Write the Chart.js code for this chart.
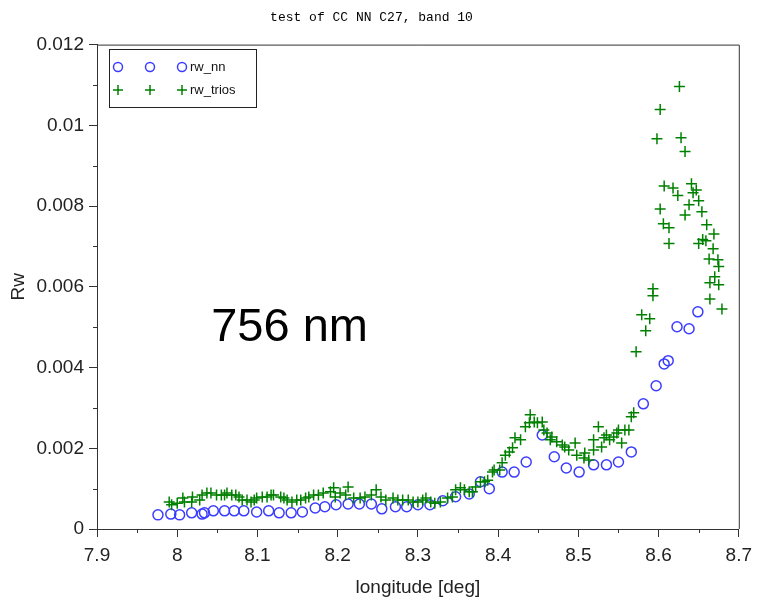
<!DOCTYPE html>
<html>
<head>
<meta charset="utf-8">
<script src="https://cdn.jsdelivr.net/npm/chart.js@4"></script>
<style>
  html, body { margin: 0; padding: 0; background: #fff; }
  #wrap { width: 759px; height: 601px; }
</style>
</head>
<body>
<div id="wrap"><canvas id="rwChart" width="759" height="601"></canvas></div>
<script>
// rw_nn (blue circles)
const nnLon = [7.976,7.992,8.003,8.018,8.031,8.034,8.045,8.059,8.071,8.083,8.099,8.114,8.127,8.142,8.156,8.172,8.184,8.198,8.213,8.227,8.242,8.255,8.272,8.286,8.300,8.315,8.331,8.347,8.364,8.378,8.389,8.405,8.420,8.435,8.455,8.470,8.485,8.501,8.519,8.535,8.550,8.566,8.581,8.597,8.607,8.612,8.623,8.638,8.649];
const nnRw = [0.00035,0.00037,0.00035,0.0004,0.00037,0.0004,0.00045,0.00045,0.00045,0.00045,0.00042,0.00045,0.0004,0.0004,0.00042,0.00052,0.00055,0.0006,0.00062,0.00062,0.00062,0.0005,0.00055,0.00055,0.0006,0.0006,0.0007,0.0008,0.00087,0.00117,0.001,0.00141,0.00141,0.00166,0.00233,0.00179,0.00151,0.00141,0.00159,0.00159,0.00166,0.00191,0.0031,0.00355,0.00409,0.00417,0.00501,0.00496,0.00538];

// rw_trios (green crosses)
const triosLon = [7.990,7.993,8.000,8.007,8.009,8.018,8.019,8.028,8.031,8.037,
  8.042,8.049,8.055,8.059,8.062,8.068,8.073,8.077,8.081,8.087,
  8.092,8.096,8.099,8.106,8.112,8.117,8.120,8.129,8.133,8.137,
  8.143,8.149,8.154,8.160,8.164,8.170,8.176,8.182,8.191,8.195,
  8.197,8.203,8.210,8.213,8.220,8.228,8.234,8.242,8.248,8.254,
  8.260,8.269,8.275,8.281,8.288,8.294,8.300,8.306,8.310,8.316,
  8.321,8.328,8.337,8.343,8.347,8.353,8.358,8.364,8.368,8.372,
  8.378,8.383,8.387,8.393,8.395,8.402,8.405,8.409,8.414,8.418,
  8.421,8.428,8.434,8.439,8.440,8.445,8.449,8.455,8.457,8.461,
  8.465,8.467,8.473,8.480,8.483,8.488,8.496,8.498,8.507,8.508,
  8.513,8.519,8.519,8.525,8.529,8.532,8.535,8.539,8.544,8.548,
  8.550,8.554,8.558,8.563,8.566,8.569,8.572,8.579,8.584,8.589,
  8.593,8.593,8.598,8.602,8.602,8.606,8.607,8.613,8.613,8.618,
  8.624,8.626,8.628,8.633,8.633,8.638,8.641,8.643,8.647,8.650,
  8.650,8.654,8.655,8.659,8.660,8.663,8.664,8.664,8.668,8.669,
  8.670,8.674,8.675,8.675,8.679];
const triosRw = [0.00067,0.00060,0.00064,0.00077,0.00067,0.00067,0.00079,0.00072,0.00084,0.00089,
  0.00089,0.00084,0.00084,0.00084,0.00089,0.00084,0.00084,0.00079,0.00072,0.00072,
  0.00067,0.00072,0.00077,0.00079,0.00079,0.00084,0.00084,0.00079,0.00077,0.00072,
  0.00067,0.00072,0.00072,0.00077,0.00079,0.00084,0.00084,0.00089,0.00092,0.00102,
  0.00079,0.00089,0.00084,0.00104,0.00077,0.00077,0.00079,0.00084,0.00097,0.00079,
  0.00072,0.00077,0.00072,0.00072,0.00072,0.00067,0.00067,0.00072,0.00077,0.00067,
  0.00064,0.00067,0.00077,0.00079,0.00097,0.00102,0.00097,0.00092,0.00092,0.00104,
  0.00117,0.00117,0.00121,0.00141,0.00146,0.00146,0.00164,0.00183,0.00191,0.00201,
  0.00226,0.00221,0.00253,0.00263,0.00283,0.00265,0.00263,0.00265,0.00245,0.00238,
  0.00221,0.00228,0.00216,0.00208,0.00203,0.00196,0.00213,0.00183,0.00176,0.00188,
  0.00171,0.00196,0.00221,0.00253,0.00203,0.00226,0.00233,0.00221,0.00228,0.00238,
  0.00245,0.00213,0.00245,0.00245,0.00278,0.00288,0.00439,0.00531,0.00491,0.00521,
  0.00595,0.00578,0.00967,0.01039,0.00793,0.00756,0.00850,0.00746,0.00707,0.00845,
  0.00826,0.01096,0.00969,0.00935,0.00778,0.00803,0.00855,0.00833,0.00840,0.00813,
  0.00707,0.00786,0.00717,0.00714,0.00754,0.00669,0.00610,0.00570,0.00694,0.00731,
  0.00625,0.00667,0.00650,0.00605,0.00545];

// axes
const xRange = [7.9, 8.7];
const yRange = [0, 0.012];
const xMinorTicks = [7.95, 8.05, 8.15, 8.25, 8.35, 8.45, 8.55, 8.65];
const yMinorTicks = [0.001, 0.003, 0.005, 0.007, 0.009, 0.011];

const BLUE = 'rgb(60,60,255)';
const GREEN = 'rgb(0,128,0)';
const FONT = '"Liberation Sans", Arial, sans-serif';

const toPoints = (xs, ys) => xs.map((x, i) => ({ x: x, y: ys[i] }));

// frame, minor ticks, legend, annotation
const extras = {
  id: 'extras',
  afterDraw(chart) {
    const { ctx, chartArea: a, scales } = chart;
    const xs = scales.x, ys = scales.y;
    ctx.save();
    ctx.strokeStyle = '#333';
    ctx.lineWidth = 1;
    ctx.beginPath();
    ctx.moveTo(a.left, a.top + 0.5);
    ctx.lineTo(a.right + 0.5, a.top + 0.5);
    ctx.lineTo(a.right + 0.5, a.bottom);
    // minor ticks
    xMinorTicks.forEach(v => {
      const px = Math.round(xs.getPixelForValue(v)) + 0.5;
      ctx.moveTo(px, a.bottom);
      ctx.lineTo(px, a.bottom + 4);
    });
    yMinorTicks.forEach(v => {
      const py = Math.round(ys.getPixelForValue(v)) + 0.5;
      ctx.moveTo(a.left, py);
      ctx.lineTo(a.left - 4, py);
    });
    ctx.stroke();

    // legend
    ctx.strokeStyle = '#222';
    ctx.strokeRect(109.5, 49.5, 147, 58);
    ctx.lineWidth = 1.5;
    [118, 150, 182].forEach(lx => {
      ctx.strokeStyle = BLUE;
      ctx.beginPath();
      ctx.arc(lx, 67, 4.5, 0, Math.PI * 2);
      ctx.stroke();
      ctx.strokeStyle = GREEN;
      ctx.beginPath();
      ctx.moveTo(lx - 5, 90); ctx.lineTo(lx + 5, 90);
      ctx.moveTo(lx, 85); ctx.lineTo(lx, 95);
      ctx.stroke();
    });
    ctx.fillStyle = '#111';
    ctx.font = '13px ' + FONT;
    ctx.textBaseline = 'middle';
    ctx.textAlign = 'left';
    ctx.fillText('rw_nn', 190, 67);
    ctx.fillText('rw_trios', 190, 90);

    // band label
    ctx.fillStyle = '#000';
    ctx.font = '47px ' + FONT;
    ctx.textAlign = 'center';
    ctx.fillText('756 nm', xs.getPixelForValue(8.14), ys.getPixelForValue(0.00498));
    ctx.restore();
  }
};

new Chart(document.getElementById('rwChart').getContext('2d'), {
  type: 'scatter',
  data: {
    datasets: [{
      label: 'rw_nn',
      data: toPoints(nnLon, nnRw),
      pointStyle: 'circle',
      pointRadius: 5,
      pointBorderWidth: 1.5,
      borderColor: BLUE,
      backgroundColor: 'rgba(0,0,0,0)',
      order: 2
    }, {
      label: 'rw_trios',
      data: toPoints(triosLon, triosRw),
      pointStyle: 'cross',
      pointRadius: 5.5,
      pointBorderWidth: 1.5,
      borderColor: GREEN,
      backgroundColor: GREEN,
      order: 1
    }]
  },
  options: {
    responsive: false,
    animation: false,
    layout: { padding: { left: 0, right: 16, top: 0, bottom: 0 } },
    plugins: {
      legend: { display: false },
      tooltip: { enabled: false },
      title: {
        display: true,
        text: 'test of CC NN C27, band 10',
        font: { family: '"Liberation Mono", "DejaVu Sans Mono", monospace', size: 13, weight: 'normal' },
        color: '#000',
        padding: { top: 10, bottom: 19 }
      }
    },
    scales: {
      x: {
        type: 'linear',
        min: xRange[0],
        max: xRange[1],
        afterFit: s => { s.height = 72; },
        ticks: {
          stepSize: 0.1,
          padding: 7,
          color: '#222',
          font: { family: FONT, size: 19 },
          callback: v => String(Math.round(v * 10) / 10)
        },
        grid: { drawOnChartArea: false, drawTicks: true, tickLength: 8, color: '#333' },
        border: { color: '#333', width: 1 },
        title: {
          display: true,
          text: 'longitude [deg]',
          color: '#222',
          font: { family: FONT, size: 19 },
          padding: { top: 0, bottom: 2 }
        }
      },
      y: {
        type: 'linear',
        min: yRange[0],
        max: yRange[1],
        afterFit: s => { s.width = 97; },
        ticks: {
          stepSize: 0.002,
          padding: 5,
          color: '#222',
          font: { family: FONT, size: 19 },
          callback: v => String(+v.toFixed(3))
        },
        grid: { drawOnChartArea: false, drawTicks: true, tickLength: 8, color: '#333' },
        border: { color: '#333', width: 1 },
        title: {
          display: true,
          text: 'Rw',
          color: '#222',
          font: { family: FONT, size: 19 },
          padding: { top: 7, bottom: 0 }
        }
      }
    }
  },
  plugins: [extras]
});
</script>
</body>
</html>
